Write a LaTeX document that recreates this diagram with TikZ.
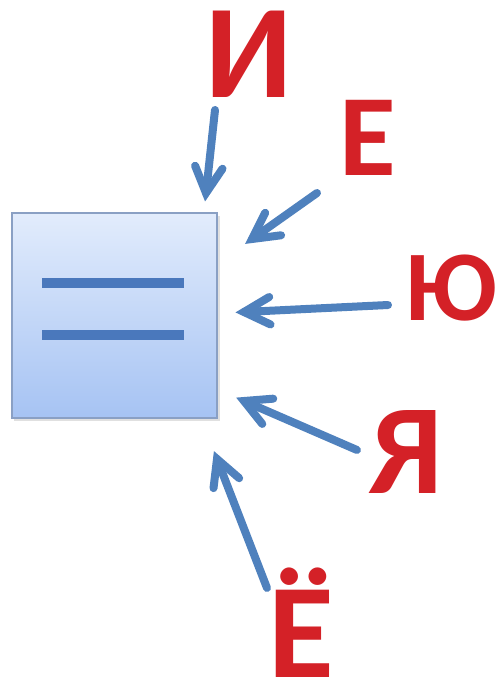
\documentclass[tikz,border=0pt]{standalone}
\usepackage{fontspec}
\setmainfont{Carlito}
\usetikzlibrary{calc}
\definecolor{arrowblue}{HTML}{4F81BD}
\definecolor{barblue}{HTML}{4A78BC}
\definecolor{boxtop}{HTML}{E2ECFC}
\definecolor{boxbot}{HTML}{A6C3F3}
\definecolor{boxedge}{HTML}{8AA0C4}
\definecolor{letterred}{HTML}{D42127}
\tikzset{
  letter/.style={font=\bfseries\fontsize{#1}{#1}\selectfont, text=letterred, inner sep=0pt, anchor=base, text height=0.64em, text depth=0pt},
  arrowline/.style={draw=arrowblue, line width=6pt, line cap=round, line join=miter},
  bar/.style={draw=barblue, line width=7.5pt, line cap=butt},
}
\newcommand\bluearrow[2]{%
  \draw[arrowline] (#1) -- (#2);
  \draw[arrowline] ($(#2)!22pt!28:(#1)$) -- (#2) -- ($(#2)!22pt!-28:(#1)$);
}
\begin{document}
\begin{tikzpicture}[x=0.75pt,y=-0.75pt]
  \useasboundingbox (0,0) rectangle (496,682);
  \fill[white] (0,0) rectangle (496,682);
  % box
  \fill[black!12] (14,216) rectangle (220,421);
  \shade[top color=boxtop, bottom color=boxbot, draw=boxedge, line width=0.8pt] (12,213) rectangle (217,418);
  \coordinate (b1l) at (42,283); \coordinate (b1r) at (184,283);
  \coordinate (b2l) at (42,335); \coordinate (b2r) at (184,335);
  \draw[bar] (b1l) -- (b1r);
  \draw[bar] (b2l) -- (b2r);
  % letters
  \node[letter=100pt] (i)  at (249,97)  {И};
  \node[letter=87pt]  (e)  at (368,175) {Е};
  \node[letter=75pt, anchor=base west] (yu) at (405,320) {Ю};
  \node[letter=96pt]  (ya) at (406,493) {Я};
  \node[letter=101pt] (yo) at (301,677) {Ё};
  % arrows
  \coordinate (si) at (215,110);  \coordinate (ti) at (206,193);
  \coordinate (se) at (317,193);  \coordinate (te) at (252,239);
  \coordinate (syu) at (388,305); \coordinate (tyu) at (244,312);
  \coordinate (sya) at (357,450); \coordinate (tya) at (244,401);
  \coordinate (syo) at (267,588); \coordinate (tyo) at (217,459);
  \bluearrow{si}{ti}
  \bluearrow{se}{te}
  \bluearrow{syu}{tyu}
  \bluearrow{sya}{tya}
  \bluearrow{syo}{tyo}
\end{tikzpicture}
\end{document}
